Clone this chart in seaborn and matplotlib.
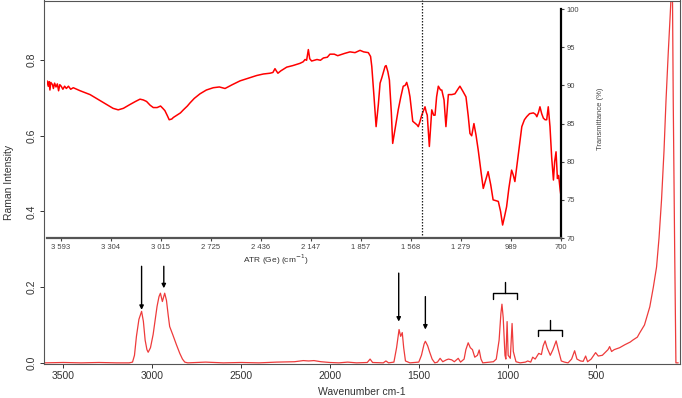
import numpy as np
import pandas as pd
import matplotlib
matplotlib.use("Agg")
import matplotlib.pyplot as plt
import seaborn as sns

# Raman spectrum (wavenumber cm-1, intensity)
raman_wn = [3610, 3500, 3400, 3300, 3200, 3130, 3111, 3100, 3089, 3075, 3060, 3050, 3040,
            3030, 3023, 3010, 2995, 2986, 2973, 2962, 2954, 2943, 2930, 2920, 2910, 2902,
            2885, 2864, 2845, 2830, 2817, 2800, 2700, 2600, 2500, 2400, 2300, 2200, 2150,
            2120, 2090, 2050, 2000, 1950, 1900, 1850, 1790, 1774, 1760, 1700, 1685, 1670,
            1640, 1625, 1611, 1602, 1593, 1585, 1575, 1550, 1500, 1485, 1470, 1463, 1450,
            1440, 1425, 1410, 1395, 1380, 1365, 1345, 1333, 1315, 1300, 1278, 1265, 1245,
            1235, 1222, 1210, 1198, 1185, 1170, 1160, 1150, 1140, 1100, 1080, 1064, 1048,
            1038, 1032, 1025, 1015, 1010, 1003, 997, 985, 975, 968, 953, 930, 900, 887,
            870, 859, 845, 825, 810, 800, 789, 778, 760, 745, 727, 715, 698, 680, 660,
            640, 623, 610, 590, 575, 561, 550, 530, 505, 490, 467, 450, 435, 426, 415,
            400, 370, 340, 310, 296, 270, 257, 230, 200, 180, 162, 148, 134, 120, 109,
            96, 85, 77, 72, 68, 60, 53, 40]
raman_int = [0.0, 0.001, 0.0, 0.001, 0.0, 0.0, 0.002, 0.02, 0.07, 0.115, 0.136, 0.11, 0.06,
             0.035, 0.028, 0.04, 0.075, 0.106, 0.149, 0.175, 0.184, 0.162, 0.184, 0.165,
             0.125, 0.096, 0.075, 0.048, 0.025, 0.01, 0.002, 0.0, 0.002, 0.0, 0.001, 0.0,
             0.002, 0.003, 0.006, 0.005, 0.006, 0.003, 0.001, 0.0, 0.002, 0.0, 0.001, 0.01,
             0.001, 0.0, 0.005, 0.0, 0.002, 0.04, 0.088, 0.07, 0.08, 0.04, 0.005, 0.0,
             0.002, 0.02, 0.05, 0.057, 0.045, 0.03, 0.01, 0.0, 0.002, 0.012, 0.003, 0.008,
             0.01, 0.008, 0.003, 0.012, 0.002, 0.01, 0.035, 0.053, 0.04, 0.035, 0.015,
             0.02, 0.034, 0.01, 0.0, 0.002, 0.003, 0.01, 0.06, 0.13, 0.155, 0.12, 0.02,
             0.01, 0.109, 0.02, 0.012, 0.104, 0.03, 0.003, 0.0, 0.002, 0.005, 0.002, 0.015,
             0.01, 0.025, 0.022, 0.045, 0.058, 0.04, 0.02, 0.035, 0.058, 0.035, 0.005,
             0.002, 0.0, 0.01, 0.032, 0.01, 0.005, 0.004, 0.018, 0.003, 0.01, 0.027,
             0.018, 0.02, 0.028, 0.035, 0.043, 0.03, 0.035, 0.04, 0.048, 0.055, 0.06,
             0.068, 0.079, 0.1, 0.148, 0.2, 0.253, 0.33, 0.43, 0.56, 0.69, 0.82, 0.92,
             1.0, 0.95, 0.69, 0.3, 0.0, 0.0]

# ATR inset (wavenumber cm-1, transmittance %)
atr_wn = [3672, 3665, 3660, 3655, 3650, 3640, 3635, 3628, 3620, 3612, 3605, 3598, 3590,
          3580, 3570, 3560, 3548, 3535, 3520, 3480, 3423, 3380, 3327, 3290, 3260, 3230,
          3192, 3160, 3134, 3115, 3096, 3075, 3057, 3035, 3015, 3002, 2990, 2975, 2965,
          2950, 2941, 2920, 2900, 2883, 2860, 2845, 2820, 2787, 2750, 2710, 2675, 2642,
          2600, 2555, 2500, 2459, 2420, 2382, 2365, 2353, 2345, 2336, 2320, 2285, 2250,
          2208, 2190, 2179, 2170, 2160, 2152, 2141, 2110, 2090, 2073, 2050, 2035, 2010,
          1990, 1977, 1950, 1919, 1890, 1861, 1840, 1813, 1800, 1793, 1780, 1768, 1755,
          1745, 1735, 1716, 1710, 1700, 1691, 1680, 1672, 1660, 1640, 1625, 1611, 1600,
          1591, 1580, 1572, 1556, 1540, 1530, 1524, 1515, 1504, 1495, 1485, 1478, 1472,
          1460, 1446, 1435, 1427, 1418, 1408, 1395, 1388, 1375, 1364, 1350, 1330, 1312,
          1295, 1283, 1265, 1248, 1235, 1225, 1215, 1202, 1190, 1177, 1160, 1148, 1135,
          1120, 1105, 1091, 1075, 1061, 1048, 1036, 1025, 1013, 1000, 984, 975, 965,
          945, 925, 910, 897, 880, 858, 845, 838, 828, 820, 810, 800, 790, 781, 772,
          762, 752, 742, 735, 727, 719, 712, 703, 700]
atr_t = [90.6, 89.9, 90.5, 89.4, 90.4, 90.1, 89.6, 90.3, 89.8, 90.2, 89.3, 90.1, 89.9,
         89.5, 89.9, 89.6, 89.9, 89.5, 89.7, 89.3, 88.8, 88.2, 87.5, 87.0, 86.8, 87.0,
         87.5, 87.9, 88.2, 88.1, 87.9, 87.4, 87.1, 87.1, 87.3, 87.0, 86.7, 86.0, 85.5,
         85.6, 85.8, 86.1, 86.4, 86.8, 87.3, 87.7, 88.3, 88.9, 89.4, 89.7, 89.8, 89.6,
         90.1, 90.6, 91.0, 91.3, 91.5, 91.6, 91.7, 92.2, 91.9, 91.6, 91.9, 92.4, 92.6,
         92.9, 93.1, 93.4, 93.3, 94.7, 93.5, 93.2, 93.4, 93.3, 93.6, 93.7, 94.1, 94.1,
         93.9, 94.0, 94.2, 94.4, 94.3, 94.6, 94.4, 94.3, 93.8, 92.5, 88.5, 84.6, 87.5,
         90.3, 91.0, 92.5, 92.6, 91.8, 90.7, 86.5, 82.4, 84.0, 86.8, 88.5, 89.9, 90.0,
         90.4, 89.5, 88.5, 85.3, 85.0, 84.8, 84.6, 85.2, 86.1, 86.6, 87.2, 86.5, 86.1,
         82.0, 86.8, 86.1, 86.1, 88.5, 89.9, 89.4, 89.4, 88.1, 84.6, 88.8, 88.8, 88.9,
         89.5, 89.9, 89.2, 88.5, 86.0, 83.7, 83.4, 85.0, 83.5, 81.5, 78.5, 76.5, 77.5,
         78.7, 77.0, 75.0, 74.9, 74.8, 73.5, 71.7, 72.8, 74.1, 76.5, 78.9, 78.3, 77.4,
         81.0, 84.6, 85.5, 85.9, 86.3, 86.4, 86.2, 85.9, 86.5, 87.2, 86.3, 85.7, 85.5,
         85.5, 87.2, 84.6, 80.5, 77.6, 80.0, 81.3, 77.8, 78.2, 76.3, 75.8]

atr_ticks = [3593, 3304, 3015, 2725, 2436, 2147, 1857, 1568, 1279, 989, 700]
atr_tick_labels = ["3 593", "3 304", "3 015", "2 725", "2 436", "2 147", "1 857",
                   "1 568", "1 279", "989", "700"]
trans_ticks = [70, 75, 80, 85, 90, 95, 100]
raman_xticks = [3500, 3000, 2500, 2000, 1500, 1000, 500]
raman_yticks = [0.0, 0.2, 0.4, 0.6, 0.8]

sns.set_style("ticks")
plt.rcParams['font.family'] = ['Liberation Sans', 'DejaVu Sans']

df_raman = pd.DataFrame({'wn': raman_wn, 'intensity': raman_int})
df_atr = pd.DataFrame({'wn': atr_wn, 'T': atr_t})

fig = plt.figure(figsize=(6.82, 3.98), dpi=100)
ax = fig.add_axes([43.5 / 682, 34 / 398, 636.5 / 682, 363.5 / 398])

sns.lineplot(data=df_raman, x='wn', y='intensity', ax=ax, color='#ee3b3b',
             linewidth=0.9, estimator=None)
ax.set_xlim(3612, 30)
ax.set_ylim(-0.003, 0.957)
ax.set_xticks(raman_xticks)
ax.set_yticks(raman_yticks)
ax.set_yticklabels([f"{v:.1f}" for v in raman_yticks])
ax.tick_params(axis='both', labelsize=7.5, colors='#333333', length=3, width=0.7, pad=2)
ax.tick_params(axis='y', labelrotation=90)
for lab in ax.get_yticklabels():
    lab.set_va('center')
for sp in ax.spines.values():
    sp.set_visible(True)
    sp.set_color('#555555')
    sp.set_linewidth(0.8)
ax.set_xlabel("Wavenumber cm-1", fontsize=7.5, color='#333333')
ax.set_ylabel("Raman Intensity", fontsize=7.5, color='#333333')
ax.xaxis.set_label_coords(0.5, -0.062)
ax.yaxis.set_label_coords(-0.046, 0.5)

# arrows on peaks
arrows = [(3060, 0.255, 0.14), (2935, 0.255, 0.197), (1613, 0.237, 0.109), (1463, 0.175, 0.088)]
for x, y0, y1 in arrows:
    ax.annotate("", xy=(x, y1), xytext=(x, y0),
                arrowprops=dict(arrowstyle='-|>', color='black', lw=1.0,
                                mutation_scale=6, shrinkA=0, shrinkB=0))

# brackets over peak groups
brackets = [(1085, 947, 0.185, 0.168, 0.214), (830, 692, 0.087, 0.07, 0.113)]
for xl, xr, yb, ye, yt in brackets:
    xc = (xl + xr) / 2
    ax.plot([xl, xl, xr, xr], [ye, yb, yb, ye], color='black', lw=1.0)
    ax.plot([xc, xc], [yb, yt], color='black', lw=1.0)

# ATR inset
ax_in = fig.add_axes([47 / 682, 160 / 398, 513.7 / 682, 238 / 398])
ax_in.patch.set_alpha(0)
sns.lineplot(data=df_atr, x='wn', y='T', ax=ax_in, color='#ff0000',
             linewidth=1.1, estimator=None)
ax_in.set_xlim(3672, 700)
ax_in.set_ylim(70, 101.2)
ax_in.axvline(1504, color='#222222', ls=(0, (1.2, 1.2)), lw=0.9)
ax_in.set_xticks(atr_ticks)
ax_in.set_xticklabels(atr_tick_labels)
ax_in.set_yticks(trans_ticks)
ax_in.yaxis.tick_right()
ax_in.yaxis.set_label_position('right')
ax_in.spines['top'].set_visible(False)
ax_in.spines['left'].set_visible(False)
ax_in.spines['bottom'].set_color('#555555')
ax_in.spines['bottom'].set_linewidth(1.6)
ax_in.spines['right'].set_color('black')
ax_in.spines['right'].set_linewidth(1.6)
ax_in.spines['right'].set_bounds(70, 100)
ax_in.tick_params(axis='both', labelsize=5.5, colors='#444444', length=2, width=0.8, pad=2)
ax_in.set_xlabel("ATR (Ge) (cm$^{-1}$)", fontsize=6, color='#333333')
ax_in.xaxis.set_label_coords(0.445, -0.06)
ax_in.set_ylabel("Transmittance (%)", fontsize=5.5, color='#444444')
ax_in.yaxis.set_label_coords(1.07, 0.5)

fig.savefig("out.png", dpi=100)
